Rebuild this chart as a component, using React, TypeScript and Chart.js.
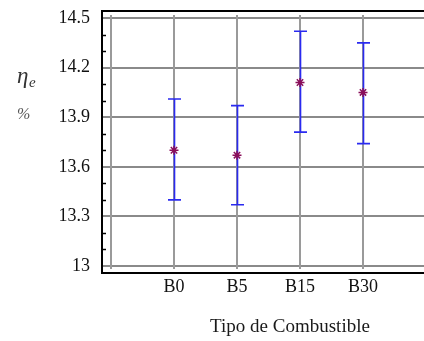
import React, { useEffect, useRef } from "react";
import { Chart, registerables } from "chart.js";

Chart.register(...registerables);

const categories = ["B0", "B5", "B15", "B30"];
const means = [13.7, 13.67, 14.11, 14.05];
const upper = [14.01, 13.97, 14.42, 14.35];
const lower = [13.4, 13.37, 13.81, 13.74];
const yTicks = [13, 13.3, 13.6, 13.9, 14.2, 14.5];
const yMinorTicks = [13.1, 13.2, 13.4, 13.5, 13.7, 13.8, 14.0, 14.1, 14.3, 14.4];
const xGridValues = [0, 1, 2, 3, 4];
const xTitle = "Tipo de Combustible";

const SERIF = "'Liberation Serif', 'Times New Roman', serif";

const zeroPad = (s: any) => {
  s.paddingTop = 0;
  s.paddingBottom = 0;
  s.paddingLeft = 0;
  s.paddingRight = 0;
};

const decorPlugin = {
  id: "decor",
  beforeDatasetsDraw(chart: any) {
    const { ctx, chartArea, scales } = chart;
    const x = scales.x;
    const y = scales.y;
    ctx.save();
    // vertical grid lines
    ctx.strokeStyle = "#9a9a9a";
    ctx.lineWidth = 2;
    xGridValues.forEach((v) => {
      const px = Math.round(x.getPixelForValue(v));
      ctx.beginPath();
      ctx.moveTo(px, chartArea.top + 4);
      ctx.lineTo(px, chartArea.bottom - 4);
      ctx.stroke();
    });
    // box
    ctx.strokeStyle = "#000";
    ctx.lineWidth = 2;
    ctx.beginPath();
    ctx.moveTo(chartArea.right + 2, chartArea.top);
    ctx.lineTo(chartArea.left, chartArea.top);
    ctx.lineTo(chartArea.left, chartArea.bottom);
    ctx.lineTo(chartArea.right + 2, chartArea.bottom);
    ctx.stroke();
    // minor ticks
    ctx.lineWidth = 1.5;
    yMinorTicks.forEach((v) => {
      const py = Math.round(y.getPixelForValue(v)) + 0.5;
      ctx.beginPath();
      ctx.moveTo(chartArea.left, py);
      ctx.lineTo(chartArea.left + 4, py);
      ctx.stroke();
    });
    // error bars
    ctx.strokeStyle = "#2a2af0";
    ctx.lineWidth = 1.6;
    categories.forEach((_, i) => {
      const px = Math.round(x.getPixelForValue(i + 1)) + 0.5;
      const pt = y.getPixelForValue(upper[i]);
      const pb = y.getPixelForValue(lower[i]);
      ctx.beginPath();
      ctx.moveTo(px, pt);
      ctx.lineTo(px, pb);
      ctx.moveTo(px - 6.5, pt);
      ctx.lineTo(px + 6.5, pt);
      ctx.moveTo(px - 6.5, pb);
      ctx.lineTo(px + 6.5, pb);
      ctx.stroke();
    });
    ctx.restore();
  },
  afterDraw(chart: any) {
    const { ctx } = chart;
    ctx.save();
    ctx.fillStyle = "#1a1a1a";
    ctx.textAlign = "center";
    ctx.textBaseline = "middle";
    ctx.font = `19px ${SERIF}`;
    ctx.fillText(xTitle, 290, 327);
    // y title: eta_e and %
    ctx.fillStyle = "#333";
    ctx.textAlign = "left";
    ctx.font = `italic 23px ${SERIF}`;
    ctx.fillText("η", 17, 77);
    ctx.font = `italic 15px ${SERIF}`;
    ctx.fillText("e", 29, 83);
    ctx.fillStyle = "#555";
    ctx.font = `italic 16px ${SERIF}`;
    ctx.fillText("%", 17, 115);
    ctx.restore();
  },
};

export default function App() {
  const ref = useRef<HTMLCanvasElement | null>(null);
  useEffect(() => {
    if (!ref.current) return;
    const chart = new Chart(ref.current, {
      type: "scatter",
      data: {
        datasets: [
          {
            data: categories.map((_, i) => ({ x: i + 1, y: means[i] })),
            pointStyle: "star",
            radius: 4.5,
            borderColor: "#8a0f5a",
            backgroundColor: "#8a0f5a",
            borderWidth: 1.5,
          } as any,
        ],
      },
      options: {
        animation: false,
        responsive: false,
        devicePixelRatio: 1,
        layout: { autoPadding: false, padding: { top: 11, left: 0, right: 0, bottom: 0 } },
        plugins: { legend: { display: false }, tooltip: { enabled: false } },
        scales: {
          x: {
            type: "linear",
            min: -9 / 63,
            max: 4 + 61 / 63,
            afterBuildTicks: (s: any) => {
              s.ticks = xGridValues.map((v) => ({ value: v }));
            },
            afterFit: (s: any) => {
              s.height = 68;
              zeroPad(s);
            },
            ticks: {
              callback: (v: any) => categories[Number(v) - 1] ?? "",
              font: { family: SERIF, size: 18 },
              color: "#111",
              padding: 3,
              maxRotation: 0,
              autoSkip: false,
            },
            grid: { display: false, drawTicks: false },
            border: { display: false },
          },
          y: {
            type: "linear",
            min: 13 - 7 / 164.4,
            max: 14.5 + 7 / 164.4,
            afterBuildTicks: (s: any) => {
              s.ticks = yTicks.map((v) => ({ value: v }));
            },
            afterFit: (s: any) => {
              s.width = 102;
              zeroPad(s);
            },
            ticks: {
              callback: (v: any) => String(Number(Number(v).toFixed(1))),
              font: { family: SERIF, size: 18 },
              color: "#111",
              padding: 12,
            },
            grid: { color: "#8a8a8a", lineWidth: 2, drawTicks: false },
            border: { display: false },
          },
        },
      },
      plugins: [decorPlugin],
    });
    return () => chart.destroy();
  }, []);
  return (
    <div style={{ position: "fixed", left: 0, top: 0, width: 424, height: 341, background: "#fff" }}>
      <canvas ref={ref} width={424} height={341} />
    </div>
  );
}
